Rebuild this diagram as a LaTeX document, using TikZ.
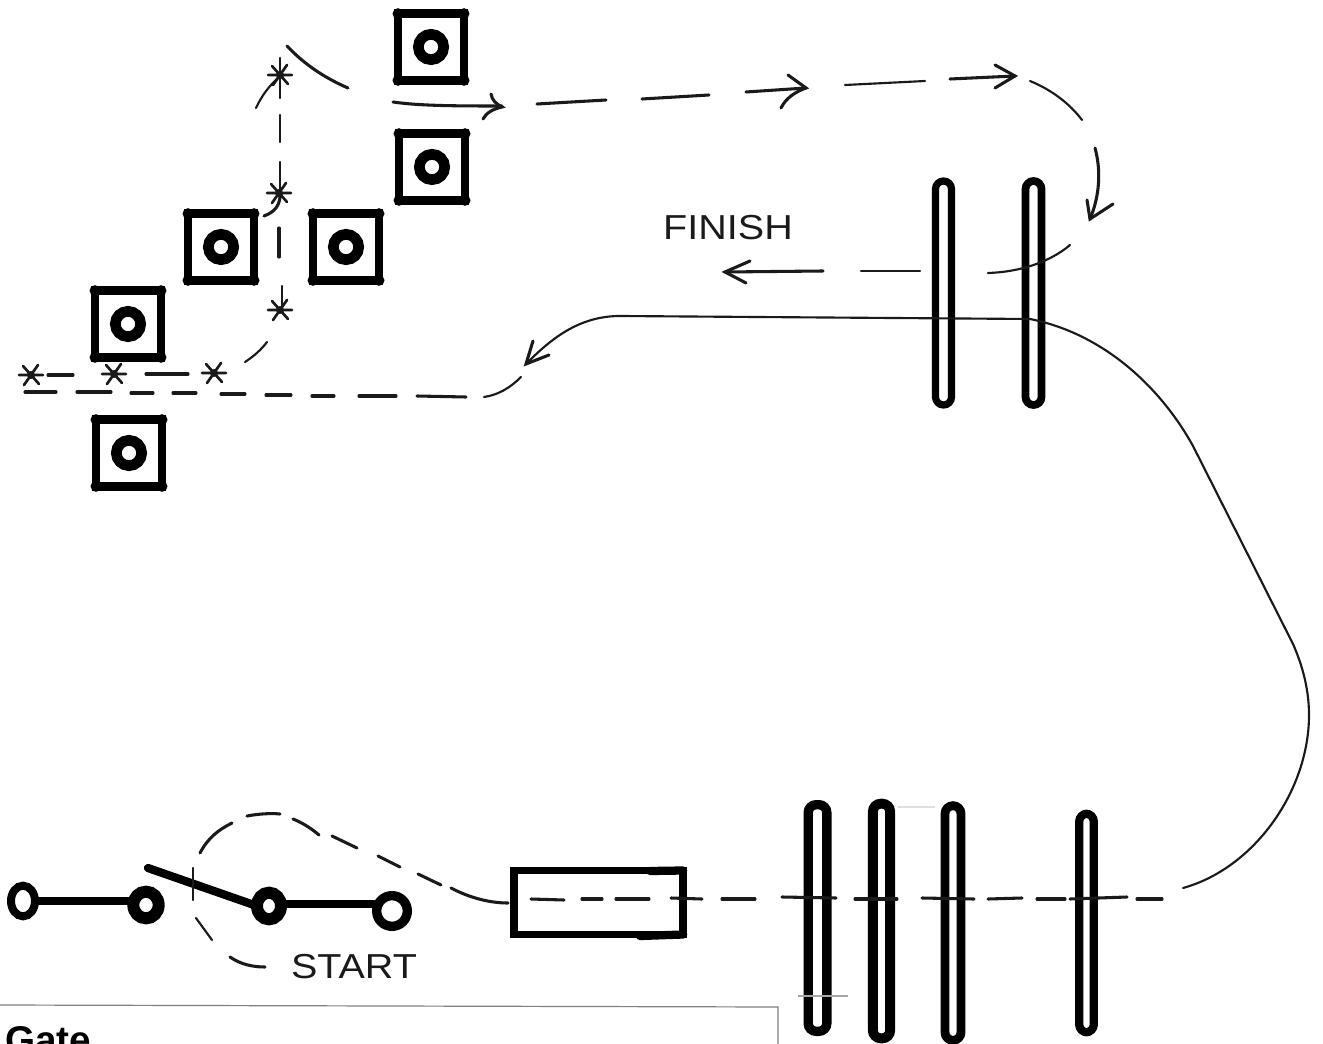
\documentclass[tikz,border=0pt]{standalone}
\usepackage{fontspec}
\usetikzlibrary{shapes.geometric}
\setmainfont{Liberation Sans}
\definecolor{ink}{HTML}{1A1A1A}
\tikzset{
  ringbox/.style={draw=black,line width=6.4pt,minimum width=49.5pt,minimum height=50pt,inner sep=0pt,outer sep=0pt},
  ringhole/.style={circle,draw=black,line width=8pt,minimum size=19pt,inner sep=0pt,outer sep=0pt},
  gatebar/.style n args={3}{draw=black,line width=#3,rounded corners=6pt,minimum width=#1,minimum height=#2,inner sep=0pt,outer sep=0pt},
  post/.style={ellipse,draw=black,line width=6pt,inner sep=0pt,outer sep=0pt},
  track/.style={draw=ink,line width=2.3pt,line cap=round},
  fine/.style={draw=ink,line width=1.6pt,line cap=round},
  heavy/.style={draw=black,line width=6.2pt,line cap=round},
  hand/.style={text=ink,inner sep=0pt,font=\fontsize{26pt}{26pt}\selectfont},
  xmark/.pic={
    \draw[draw=ink,line width=2pt,line cap=round] (-12,0)--(12,0) (-8,-9)--(8,9) (-7,10)--(7,-10);
    \fill[ink] (0,0) circle (4);
  }
}
\begin{document}
\begin{tikzpicture}[x=0.75pt,y=-0.75pt]
\useasboundingbox (0,0) rectangle (1323,1044);
\clip (0,0) rectangle (1323,1044);

% target boxes with rings
\foreach \n/\x/\y in {b1/431/47,b2/432/167,b3/221/247,b4/346/247,b5/128/324,b6/129/453}{
  \node[ringbox] (\n) at (\x,\y) {};
  \node[ringhole] (\n r) at (\x,\y) {};
  \foreach \c in {north west,north east,south west,south east}{
    \fill[black] (\n.\c) circle (5.5);
  }
}

% gates
\node[gatebar={12pt}{168pt}{5.4pt}] (g1) at (943.5,293) {};
\node[gatebar={12pt}{168pt}{5.8pt}] (g2) at (1033.5,293) {};
\node[gatebar={14pt}{170pt}{7pt}] (g3) at (817.5,918) {};
\node[gatebar={13pt}{176pt}{7.4pt}] (g4) at (881.5,921) {};
\node[gatebar={12pt}{176pt}{6.6pt}] (g5) at (953,923) {};
\node[gatebar={11pt}{164pt}{6.2pt}] (g6) at (1086.5,923) {};
\node[draw=black,line width=5.6pt,minimum width=127pt,minimum height=48pt,inner sep=0pt,outer sep=0pt] (bay) at (598.5,902.5) {};
\draw[heavy] (650,871) -- (bay.north east);
\draw[heavy] (640,936) -- (bay.south east);

% switch
\node[post,minimum width=18pt,minimum height=23pt] (p1) at (23,901) {};
\node[post,minimum width=19pt,minimum height=20pt,line width=9pt] (p2) at (146,905) {};
\node[post,minimum width=18pt,minimum height=20pt,line width=9pt] (p3) at (269,906) {};
\node[post,minimum width=23pt,minimum height=23pt,line width=7pt] (p4) at (392,911) {};
\coordinate (p1out) at (37,901);
\coordinate (p2in) at (130,901);
\coordinate (p3out) at (284,904);
\coordinate (p4in) at (374,904);
\draw[heavy] (p1out) -- (p2in);
\draw[heavy] (p3out) -- (p4in);
\coordinate (armtop) at (148,868);
\draw[heavy] (armtop) -- (p3.west);

% start loop
\draw[fine] (193,868) -- (193,900);
\draw[fine] (196,918) -- (212,940);
\draw[track] (230,957) .. controls (240,964) and (252,967) .. (265,967);
\draw[track] (200,853) .. controls (208,838) and (218,830) .. (232,823);
\draw[track] (247,816) .. controls (258,814) and (270,813) .. (280,814);
\draw[track] (293,819) .. controls (303,823) and (312,829) .. (319,835);
\draw[track] (332,836) -- (357,848);
\draw[track] (378,856) -- (400,867);
\draw[track] (418,874) -- (441,885);
\draw[track] (451,888) .. controls (470,898) and (490,903) .. (508,903);

% dashes through the bay and gates
\foreach \a/\b/\c/\d in {531/899/564/900,582/899/602/899,616/899/649/899,671/898/702/899,722/899/755/899,782/897/836/898,855/899/897/899,922/898/974/899,988/899/1022/898,1037/899/1065/899,1070/899/1127/897,1137/899/1162/899}{
  \draw[track] (\a,\b) -- (\c,\d);
}

% big solid curve
\draw[fine] (1183,888) .. controls (1255,868) and (1309,790) .. (1309,715)
  .. controls (1309,685) and (1300,660) .. (1293,644) -- (1193,446)
  .. controls (1165,395) and (1110,335) .. (1030,319) -- (620,316)
  .. controls (578,316) and (550,340) .. (527,363);
\draw[track] (533,341) -- (526,364) -- (549,355);

% return dashes
\draw[fine] (521,377) .. controls (510,388) and (498,395) .. (484,397);
\foreach \a/\b/\c/\d in {25/392/56/392,77/392/111/392,131/393/153/393,173/393/196/393,221/394/245/394,266/395/291/395,312/396/334/396,359/396/396/396,417/396/466/397}{
  \draw[track] (\a,\b) -- (\c,\d);
}

% slalom line with marks
\pic at (31,375) {xmark};
\pic at (114,374) {xmark};
\pic at (214,373) {xmark};
\pic at (280,310) {xmark};
\pic at (279,193) {xmark};
\pic at (280,75) {xmark};
\draw[track] (48,375) -- (73,375);
\draw[track] (146,374) -- (188,374);
\draw[fine] (245,362) .. controls (254,356) and (261,350) .. (267,342);
\draw[fine] (282,286) -- (282,308);
\draw[track] (279,228) -- (279,257);
\draw[fine] (280,162) -- (280,193);
\draw[track] (264,216) .. controls (275,212) and (280,205) .. (280,195);
\draw[fine] (280,115) -- (280,142);
\draw[fine] (280,58) -- (280,98);
\draw[fine] (256,108) .. controls (262,95) and (270,85) .. (279,77);
\draw[track] (287,46) .. controls (305,65) and (325,78) .. (348,88);

% top run
\draw[track] (393,102) .. controls (420,106) and (460,106) .. (502,106);
\draw[track] (491,94) .. controls (492,100) and (496,104) .. (502,107) .. controls (493,109) and (486,113) .. (483,119);
\draw[track] (537,104) -- (606,100);
\draw[track] (642,99) -- (709,95);
\draw[track] (746,92) -- (806,88);
\draw[track] (788,75) -- (806,88) .. controls (795,92) and (786,98) .. (781,108);
\draw[fine] (845,85) -- (925,81);
\draw[track] (950,79) -- (1015,76);
\draw[track] (995,65) -- (1015,76) -- (995,88);
\draw[fine] (1030,81) .. controls (1052,90) and (1070,104) .. (1082,120);
\draw[track] (1095,148) .. controls (1101,170) and (1100,195) .. (1090,219);
\draw[track] (1087,200) -- (1090,219) -- (1113,204);
\draw[fine] (1070,245) .. controls (1050,262) and (1020,272) .. (988,273);
\draw[fine] (861,271) -- (920,271);
\draw[track] (823,271) -- (725,272);
\draw[track] (750,261) -- (725,272) -- (746,283);

% faint marks
\draw[gray!70,line width=0.8pt] (798,996) -- (848,996);
\draw[gray!25,line width=0.8pt] (898,807) -- (935,807);

% labels
\node[hand] (finish) at (728,228) {\scalebox{1.14}[1]{FINISH}};
\node[hand] (start) at (354,967) {\scalebox{1.14}[1]{START}};

% cut-off table
\draw[gray,line width=0.9pt] (0,1005) -- (778,1007) -- (778,1044);
\node[anchor=base west,inner sep=0pt,font=\bfseries\fontsize{29pt}{29pt}\selectfont] (gatelabel) at (5,1053) {Gate};
\end{tikzpicture}
\end{document}
